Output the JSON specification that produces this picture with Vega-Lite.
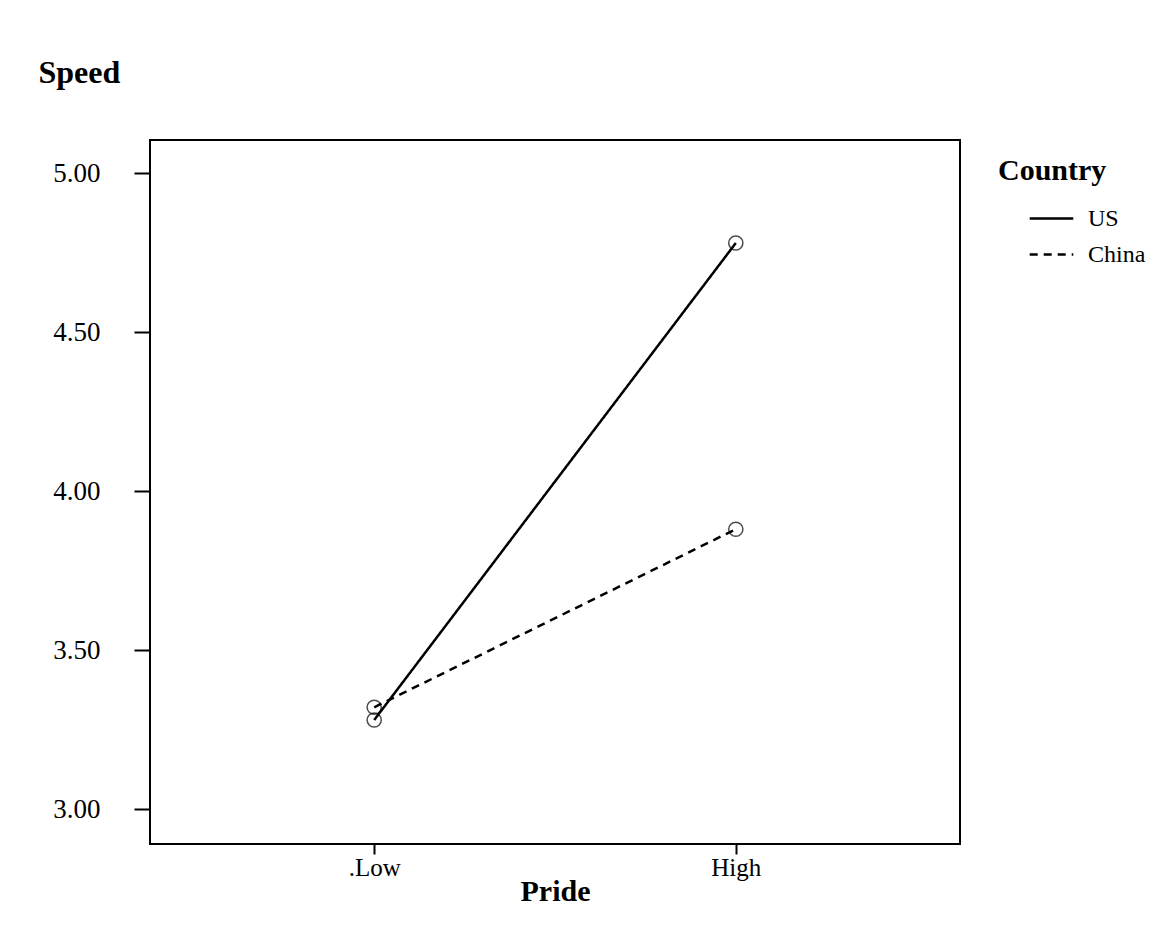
{
  "$schema": "https://vega.github.io/schema/vega-lite/v6.json",
  "autosize": "none",
  "padding": {"left": 150, "top": 140, "right": 203, "bottom": 97},
  "width": 810,
  "height": 704,
  "background": "white",
  "config": {
    "font": "Liberation Serif",
    "view": {"stroke": "black", "strokeWidth": 2},
    "axis": {"grid": false, "domain": false, "tickColor": "black", "labelColor": "black", "titleColor": "black", "labelFont": "Liberation Serif", "titleFont": "Liberation Serif"}
  },
  "data": {
    "values": [
      {"Pride": ".Low", "Country": "US", "Speed": 3.28},
      {"Pride": "High", "Country": "US", "Speed": 4.78},
      {"Pride": ".Low", "Country": "China", "Speed": 3.32},
      {"Pride": "High", "Country": "China", "Speed": 3.88}
    ]
  },
  "encoding": {
    "x": {
      "field": "Pride", "type": "ordinal", "sort": [".Low", "High"],
      "scale": {"type": "point", "padding": 0.62},
      "axis": {"title": "Pride", "labelAngle": 0, "tickSize": 10, "tickWidth": 2, "labelPadding": 1, "labelFontSize": 25, "titleFontSize": 30, "titleFontWeight": "bold", "titlePadding": -4}
    },
    "y": {
      "field": "Speed", "type": "quantitative",
      "scale": {"domain": [2.89, 5.104], "nice": false, "zero": false},
      "axis": {"values": [3, 3.5, 4, 4.5, 5], "format": ".2f", "tickSize": 16, "tickWidth": 2, "labelPadding": 34, "labelFontSize": 27,
        "title": "Speed", "titleFontSize": 32, "titleFontWeight": "bold", "titleAngle": 0, "titleAlign": "left", "titleBaseline": "alphabetic", "titleX": -112, "titleY": -58}
    }
  },
  "layer": [
    {
      "mark": {"type": "line", "color": "black", "strokeWidth": 2.5},
      "encoding": {
        "detail": {"field": "Country"},
        "strokeDash": {
          "field": "Country", "type": "nominal",
          "scale": {"domain": ["US", "China"], "range": [[1, 0], [8, 6]]},
          "legend": {
            "title": "Country", "orient": "none", "legendX": 848, "legendY": 16,
            "titleFontSize": 30, "titleFontWeight": "bold", "titleFont": "Liberation Serif", "titleColor": "black", "titlePadding": 9,
            "labelFontSize": 24, "labelFont": "Liberation Serif", "labelColor": "black", "labelOffset": 13,
            "symbolType": "stroke", "symbolSize": 1900, "symbolOffset": 30, "symbolStrokeWidth": 2.5, "symbolStrokeColor": "black",
            "rowPadding": -8, "padding": 0, "offset": 0
          }
        }
      }
    },
    {
      "mark": {"type": "point", "shape": "circle", "filled": false, "color": "black", "size": 200, "strokeWidth": 1.5},
      "encoding": {"detail": {"field": "Country"}}
    }
  ]
}
